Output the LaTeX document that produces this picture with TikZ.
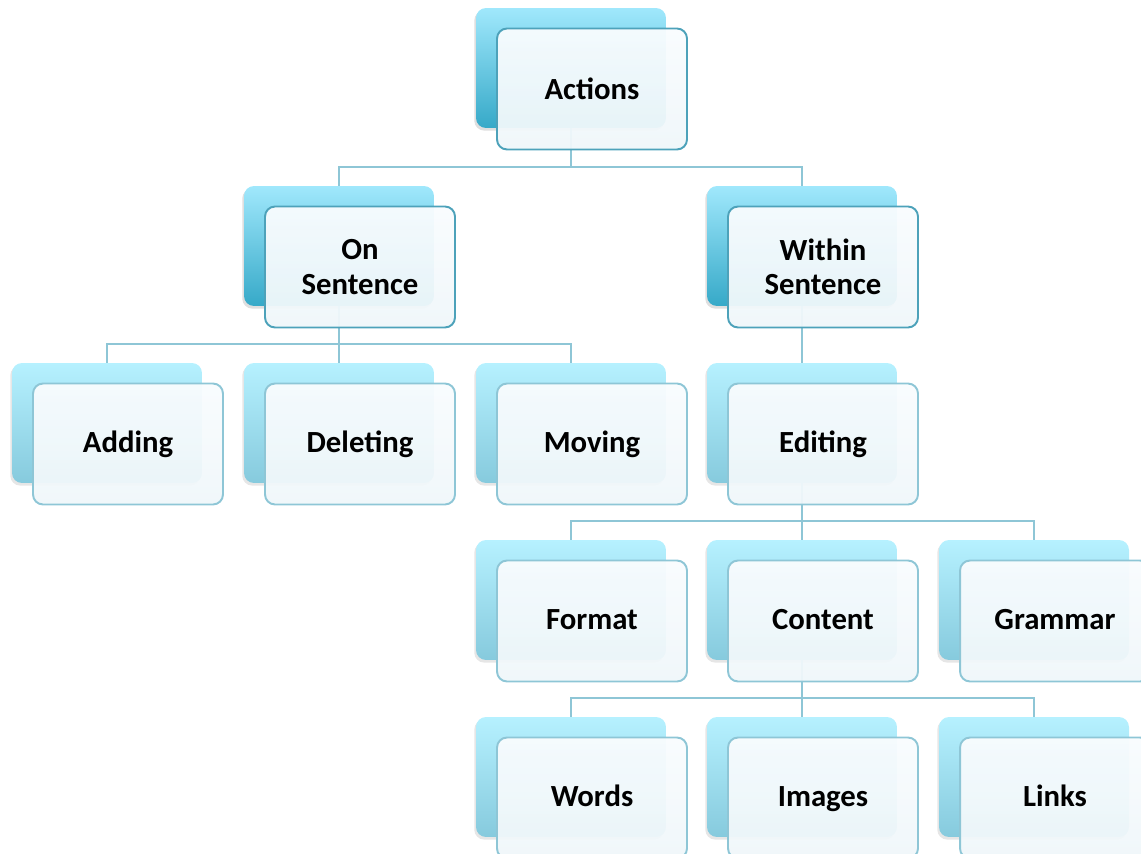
\documentclass[tikz,border=0pt]{standalone}
\usepackage{fontspec}
\setmainfont{Carlito}
\usetikzlibrary{shadows}
\definecolor{darktop}{HTML}{A0E8FC}
\definecolor{darkbot}{HTML}{36A9C8}
\definecolor{lighttop}{HTML}{B6F1FF}
\definecolor{lightbot}{HTML}{86CADD}
\definecolor{darkline}{HTML}{4DA2BA}
\definecolor{lightline}{HTML}{8EC6D6}
\definecolor{paper}{HTML}{F9FCFE}
\definecolor{paperbot}{HTML}{EFF7FA}

\begin{document}
\begin{tikzpicture}[x=0.02cm, y=-0.02cm,
    box/.style={rounded corners=0.2cm, minimum width=3.8cm, minimum height=2.4cm, inner sep=0pt},
    backdark/.style={box, top color=darktop, bottom color=darkbot,
      drop shadow={shadow xshift=-1pt, shadow yshift=-1.5pt, opacity=0.25}},
    backlight/.style={box, top color=lighttop, bottom color=lightbot,
      drop shadow={shadow xshift=-1pt, shadow yshift=-1.5pt, opacity=0.2}},
    front/.style={box, minimum height=2.42cm, top color=paper, bottom color=paperbot,
      fill opacity=0.95, text opacity=1, line width=1.1pt, align=center,
      font=\fontsize{17.5pt}{19.5pt}\selectfont\bfseries},
    frontdark/.style={front, draw=darkline},
    frontlight/.style={front, draw=lightline, text height=13pt, text depth=3pt},
    link/.style={draw=lightline, line width=1.2pt}]

  \useasboundingbox (0,0) rectangle (1141,854);

  % back boxes, top two levels
  \foreach \name/\x/\y in {actions/571/68, onsent/339/246, within/802/246}{
      \node[backdark] (\name-b) at (\x,\y) {};
    }
  % back boxes, lower levels
  \foreach \name/\x/\y in {adding/107/423, deleting/339/423, moving/571/423, editing/802/423,
      format/571/600, content/802/600, grammar/1034/600,
      words/571/777, images/802/777, links/1034/777}{
      \node[backlight] (\name-b) at (\x,\y) {};
    }

  % connectors
  \draw[link] (actions-b.south) -- ++(0,39) -| (onsent-b.north);
  \draw[link] (actions-b.south) -- ++(0,39) -| (within-b.north);
  \foreach \leaf in {adding, deleting, moving}{
      \draw[link] (onsent-b.south) -- ++(0,38) -| (\leaf-b.north);
    }
  \draw[link] (within-b.south) -- (editing-b.north);
  \foreach \leaf in {format, content, grammar}{
      \draw[link] (editing-b.south) -- ++(0,38) -| (\leaf-b.north);
    }
  \foreach \leaf in {words, images, links}{
      \draw[link] (content-b.south) -- ++(0,38) -| (\leaf-b.north);
    }

  % front boxes with the labels
  \node[frontdark] (actions) at (592,89) {Actions};
  \node[frontdark] (onsent) at (360,267) {On\\Sentence};
  \node[frontdark] (within) at (823,267) {Within\\Sentence};
  \foreach \name/\x/\y/\txt in {adding/128/444/Adding, deleting/360/444/Deleting,
      moving/592/444/Moving, editing/823/444/Editing,
      format/592/621/Format, content/823/621/Content, grammar/1055/621/Grammar,
      words/592/798/Words, images/823/798/Images, links/1055/798/Links}{
      \node[frontlight] (\name) at (\x,\y) {\txt};
    }

\end{tikzpicture}
\end{document}
